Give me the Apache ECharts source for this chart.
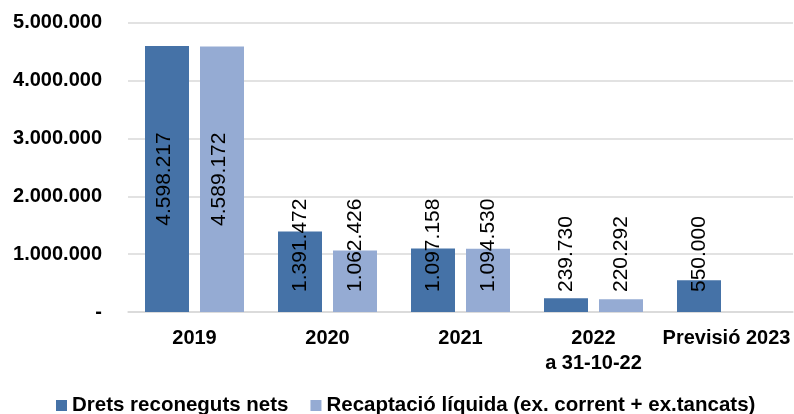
<!DOCTYPE html>
<html>
<head>
<meta charset="utf-8">
<script src="https://cdn.jsdelivr.net/npm/echarts@6/dist/echarts.min.js"></script>
<style>
  html, body { margin: 0; padding: 0; background: #fff; }
  #chart { width: 794px; height: 414px; }
</style>
</head>
<body>
<div id="chart"></div>
<script>
const categories = ['2019', '2020', '2021', '2022\na 31-10-22', 'Previsió 2023']
const drets = [4598217, 1391472, 1097158, 239730, 550000]
const recaptacio = [4589172, 1062426, 1094530, 220292, null]
const seriesNames = ['Drets reconeguts nets', 'Recaptació líquida (ex. corrent + ex.tancats)']

// format amb punts de milers, zero com a guió
const fmt = v => v === 0 ? '-' : String(v).replace(/\B(?=(\d{3})+(?!\d))/g, '.')

const labelBase = {
  show: true,
  position: 'insideBottom',
  distance: 20,
  rotate: 90,
  align: 'left',
  verticalAlign: 'middle',
  color: '#000',
  fontSize: 21,
  fontFamily: 'Liberation Sans, Arial, sans-serif',
  formatter: p => fmt(p.value)
}

// la primera columna té l'etiqueta centrada a la barra
const withFirstCentered = arr => arr.map((v, i) => i === 0
  ? {value: v, label: {position: 'inside', align: 'center', distance: 0, offset: [0, -3]}}
  : v)

const chart = echarts.init(document.getElementById('chart'))
chart.setOption({
  animation: false,
  textStyle: {fontFamily: 'Liberation Sans, Arial, sans-serif'},
  grid: {left: 128, right: 1, top: 22.7, bottom: 102},
  legend: {
    data: seriesNames,
    top: 395,
    left: 56,
    padding: 0,
    itemWidth: 11,
    itemHeight: 11,
    itemGap: 22,
    icon: 'rect',
    textStyle: {fontSize: 20.5, fontWeight: 'bold', color: '#000'}
  },
  xAxis: {
    type: 'category',
    data: categories,
    axisLine: {lineStyle: {color: '#d9d9d9', width: 1.5}},
    axisTick: {show: false},
    axisLabel: {
      interval: 0,
      margin: 14,
      color: '#000',
      fontSize: 20,
      fontWeight: 'bold',
      lineHeight: 25
    }
  },
  yAxis: {
    type: 'value',
    min: 0,
    max: 5000000,
    interval: 1000000,
    splitLine: {lineStyle: {color: '#d9d9d9', width: 1.5}},
    axisLine: {show: false},
    axisTick: {show: false},
    axisLabel: {
      margin: 26,
      color: '#000',
      fontSize: 20,
      fontWeight: 'bold',
      formatter: fmt
    }
  },
  series: [
    {
      name: seriesNames[0],
      type: 'bar',
      data: withFirstCentered(drets),
      barWidth: 44,
      barGap: '25%',
      itemStyle: {color: '#4572a7'},
      label: labelBase
    },
    {
      name: seriesNames[1],
      type: 'bar',
      data: withFirstCentered(recaptacio),
      barWidth: 44,
      itemStyle: {color: '#95abd3'},
      label: labelBase
    }
  ]
})
</script>
</body>
</html>
